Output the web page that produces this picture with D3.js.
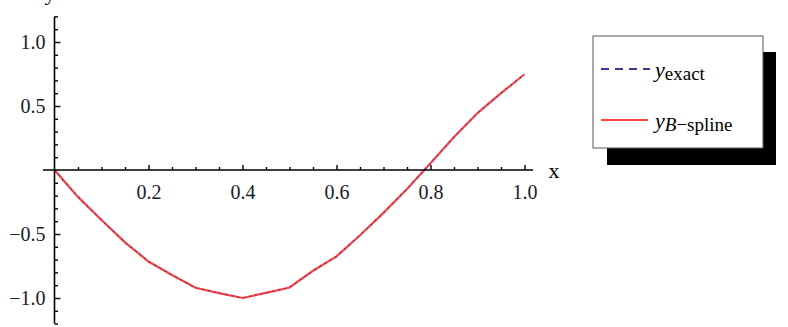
<!DOCTYPE html>
<html><head><meta charset="utf-8">
<script src="https://cdn.jsdelivr.net/npm/d3@7"></script>
<style>html,body{margin:0;padding:0;background:#fff;}svg{display:block;}</style>
</head><body>
<svg id="c" width="788" height="327"></svg>
<script>
const xValues = [0,0.05,0.1,0.15,0.2,0.25,0.3,0.35,0.4,0.45,0.5,0.55,0.6,0.65,0.7,0.75,0.8,0.85,0.9,0.95,1.0];
const yExact =  [0,-0.21,-0.39,-0.565,-0.715,-0.82,-0.92,-0.962,-1.0,-0.96,-0.918,-0.787,-0.675,-0.51,-0.335,-0.148,0.052,0.258,0.445,0.6,0.748];
const yBspline =[0,-0.21,-0.39,-0.565,-0.715,-0.82,-0.92,-0.962,-1.0,-0.96,-0.918,-0.787,-0.675,-0.51,-0.335,-0.148,0.052,0.258,0.445,0.6,0.748];
const xMajorTicks = [0.2,0.4,0.6,0.8,1.0];
const xMinorTicks = [0.05,0.1,0.15,0.25,0.3,0.35,0.45,0.5,0.55,0.65,0.7,0.75,0.85,0.9,0.95];
const yMajorTicks = [-1.0,-0.5,0.5,1.0];
const yMinorTicks = [-1.2,-1.1,-0.9,-0.8,-0.7,-0.6,-0.4,-0.3,-0.2,-0.1,0.1,0.2,0.3,0.4,0.6,0.7,0.8,0.9,1.1,1.2];
const seriesNames = ["exact","B\u2212spline"];

const svg = d3.select("#c");
const x = d3.scaleLinear().domain([0,1]).range([54.5,524.5]);
const y = d3.scaleLinear().domain([-1,1]).range([298,42]);
const font = "'Liberation Serif','Times New Roman',serif";
const fmt = d => d3.format(".1f")(d).replace("-","\u2212");

// curves
const pts = (ys) => xValues.map((v,i)=>[x(v), y(ys[i])]);
const line = d3.line();
svg.append("path").attr("d", line(pts(yBspline))).attr("fill","none")
  .attr("stroke","#ff2020").attr("stroke-width",2.2).attr("stroke-opacity",0.85);
svg.append("path").attr("d", line(pts(yExact))).attr("fill","none")
  .attr("stroke","#3d3d99").attr("stroke-width",1.3).attr("stroke-dasharray","2,4").attr("stroke-opacity",0.7);

// axes lines
svg.append("line").attr("x1",43).attr("x2",533).attr("y1",y(0)).attr("y2",y(0)).attr("stroke","#000").attr("stroke-width",1.4);
svg.append("line").attr("x1",x(0)).attr("x2",x(0)).attr("y1",y(1.2)).attr("y2",y(-1.2)).attr("stroke","#000").attr("stroke-width",1.6);

// x axis ticks
const gx = svg.append("g").attr("transform",`translate(0,${y(0)})`);
gx.call(d3.axisBottom(x).tickValues(xMajorTicks).tickSize(-5).tickPadding(10).tickFormat(fmt));
const gx2 = svg.append("g").attr("transform",`translate(0,${y(0)})`);
gx2.call(d3.axisBottom(x).tickValues(xMinorTicks).tickSize(-3).tickFormat(""));
// y axis ticks
const gy = svg.append("g").attr("transform",`translate(${x(0)},0)`);
gy.call(d3.axisLeft(y).tickValues(yMajorTicks).tickSize(-6).tickPadding(9).tickFormat(fmt));
const gy2 = svg.append("g").attr("transform",`translate(${x(0)},0)`);
gy2.call(d3.axisLeft(y).tickValues(yMinorTicks).tickSize(-3.5).tickFormat(""));
svg.selectAll(".domain").remove();
svg.selectAll(".tick line").attr("stroke","#000").attr("stroke-width",1.4);
svg.selectAll(".tick text").attr("font-family",font).attr("font-size",20).attr("fill","#1a1a2a");
gx.selectAll(".tick text").attr("dy","0.95em");

// axis labels
svg.append("text").attr("x",554).attr("y",178).attr("text-anchor","middle")
  .attr("font-family",font).attr("font-size",22).text("x");
svg.append("text").attr("x",50).attr("y",0).attr("text-anchor","middle")
  .attr("font-family",font).attr("font-size",22).text("y");

// legend
const lg = svg.append("g");
lg.append("rect").attr("x",607).attr("y",52).attr("width",169).attr("height",113).attr("fill","#000");
lg.append("rect").attr("x",593).attr("y",36).attr("width",170).attr("height",112).attr("fill","#fff")
  .attr("stroke","#555").attr("stroke-width",1);
lg.append("line").attr("x1",601).attr("x2",650).attr("y1",69).attr("y2",69)
  .attr("stroke","#3d3d99").attr("stroke-width",2).attr("stroke-dasharray","8,6");
lg.append("line").attr("x1",601).attr("x2",648).attr("y1",120).attr("y2",120)
  .attr("stroke","#ff4040").attr("stroke-width",2.2);
const rows = [{name:seriesNames[0], yb:77},{name:seriesNames[1], yb:128}];
rows.forEach((r,i)=>{
  const t = lg.append("text").attr("x",655).attr("y",r.yb).attr("font-family",font);
  t.append("tspan").attr("font-size",22).attr("font-style","italic").text("y");
  if(i===0){
    t.append("tspan").attr("font-size",19).attr("dy",3).text(r.name);
  } else {
    t.append("tspan").attr("font-size",19).attr("dy",3).attr("font-style","italic").text("B");
    t.append("tspan").attr("font-size",19).text("\u2212spline");
  }
});
</script>
</body></html>
